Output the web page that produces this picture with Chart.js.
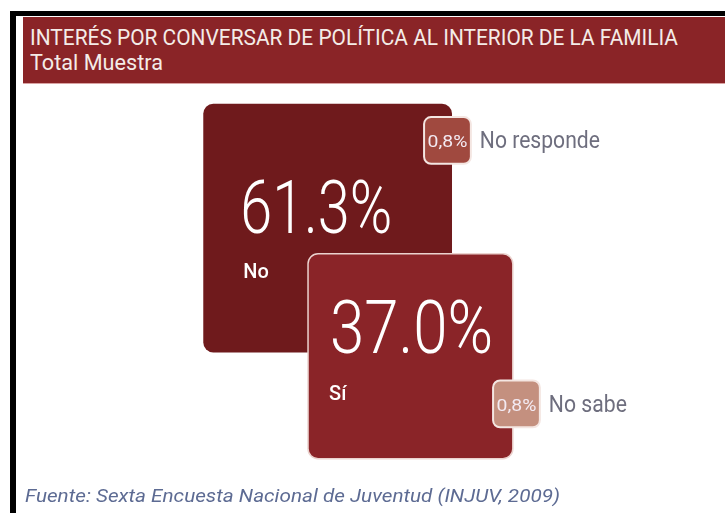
<!DOCTYPE html>
<html>
<head>
<meta charset="utf-8">
<script src="https://cdn.jsdelivr.net/npm/chart.js@4.4.1/dist/chart.umd.min.js"></script>
<style>
  html, body { margin: 0; padding: 0; background: #fff; }
  body {
    width: 725px; height: 513px; position: relative; overflow: hidden;
    font-family: Roboto, "Noto Sans", sans-serif;
  }
  .frame-top { position: absolute; left: 10px; top: 11px; width: 715px; height: 5px; background: #000; }
  .frame-left { position: absolute; left: 10px; top: 11px; width: 6px; height: 502px; background: #000; }
  .header {
    position: absolute; left: 23px; top: 17px; width: 702px; height: 66px;
    background: #8A2427; border-bottom: 1px solid #d9a3a3; color: #F4ECE8;
  }
  .fit { position: absolute; white-space: nowrap; line-height: 1; transform-origin: 0 0; }
  .header .t1 { left: 7px; top: 9px; font-size: 22.5px; }
  .header .t2 { left: 7px; top: 34px; font-size: 22.5px; }
  #wrap { position: absolute; }
  .source { left: 25px; top: 486px; font-size: 19px; font-style: italic; color: #5D6B93; }
</style>
</head>
<body>
<div class="frame-top"></div>
<div class="frame-left"></div>
<div class="header">
  <div class="fit t1" data-w="648">INTERÉS POR CONVERSAR DE POLÍTICA AL INTERIOR DE LA FAMILIA</div>
  <div class="fit t2" data-w="133">Total Muestra</div>
</div>
<div id="wrap"><canvas id="chart"></canvas></div>
<div class="fit source" data-w="535">Fuente: Sexta Encuesta Nacional de Juventud (INJUV, 2009)</div>

<script>
// Data
const categories = ["No", "Sí", "No responde", "No sabe"];
const values = [61.3, 37.0, 0.8, 0.8];
const valueLabels = ["61.3%", "37.0%", "0,8%", "0,8%"];

// Layout: where each square sits, on a 0-100 grid (x from left, y from top)
const anchorX = [45.2, 56.6, 61.7, 71.2];
const anchorY = [36.4, 70.0, 13.4, 82.5];

const fills = ["#6F1A1C", "#8A2428", "#A0493F", "#C4907F"];
const outlines = [null, "#EBD3CF", "#F4E6E2", "#F4E6E2"];

// square side grows with value on a power scale (designer's scaling)
const sideOf = (v) => 51 * Math.pow(v, 0.385);

// squeeze html text to the widths seen in the reference (condensed face)
document.querySelectorAll(".fit").forEach((el) => {
  const w = el.getBoundingClientRect().width;
  el.style.transform = `scaleX(${el.dataset.w / w})`;
});

// bubble charts pad the plot area by the largest radius, so grow the canvas by that much
const pad = Math.ceil(Math.max(...values.map(sideOf)) / 2);
const plot = { left: 0, top: 90, width: 725, height: 380 };
const wrap = document.getElementById("wrap");
wrap.style.left = plot.left - pad + "px";
wrap.style.top = plot.top - pad + "px";
wrap.style.width = plot.width + 2 * pad + "px";
wrap.style.height = plot.height + 2 * pad + "px";

function fitText(ctx, text, x, y, font, width, align) {
  ctx.save();
  ctx.font = font;
  const sx = width / ctx.measureText(text).width;
  const left = align === "center" ? x - width / 2 : x;
  ctx.translate(left, y);
  ctx.scale(sx, 1);
  ctx.textAlign = "left";
  ctx.fillText(text, 0, 0);
  ctx.restore();
}

const squarePlugin = {
  id: "squares",
  afterDatasetsDraw(chart) {
    const { ctx } = chart;
    const meta = chart.getDatasetMeta(0);
    meta.data.forEach((el, i) => {
      const h = el.options.radius;
      const x0 = el.x - h;
      const y0 = el.y - h;
      const side = h * 2;
      const big = side > 100;

      ctx.save();
      ctx.beginPath();
      ctx.roundRect(x0, y0, side, side, big ? 10 : 7);
      ctx.fillStyle = fills[i];
      ctx.fill();
      if (outlines[i]) {
        ctx.lineWidth = big ? 1.5 : 2;
        ctx.strokeStyle = outlines[i];
        ctx.stroke();
      }

      ctx.textBaseline = "alphabetic";
      if (big) {
        const off = i === 0
          ? { vx: 37, vy: 129, vw: 152, cx: 40, cy: 174 }
          : { vx: 22, vy: 99, vw: 163, cx: 21, cy: 146 };
        ctx.fillStyle = "#FFFFFF";
        fitText(ctx, valueLabels[i], x0 + off.vx, y0 + off.vy, "300 74px Roboto", off.vw);
        ctx.font = "500 20px Roboto";
        ctx.fillText(categories[i], x0 + off.cx, y0 + off.cy);
      } else {
        ctx.fillStyle = "#F3EAF2";
        fitText(ctx, valueLabels[i], el.x, el.y + 7, "17px Roboto", side - 7, "center");
        ctx.fillStyle = "#6E6E7E";
        fitText(ctx, categories[i], x0 + side + 9, el.y + 8, "23px Roboto", i === 2 ? 120 : 78);
      }
      ctx.restore();
    });
  },
};

new Chart(document.getElementById("chart"), {
  type: "bubble",
  data: {
    datasets: [
      {
        data: categories.map((c, i) => ({ x: anchorX[i], y: anchorY[i], r: sideOf(values[i]) / 2 })),
        backgroundColor: "rgba(0,0,0,0)",
        borderWidth: 0,
        hoverRadius: 0,
        clip: false,
      },
    ],
  },
  options: {
    responsive: true,
    maintainAspectRatio: false,
    animation: false,
    events: [],
    layout: { padding: 0 },
    plugins: { legend: { display: false }, tooltip: { enabled: false } },
    scales: {
      x: { type: "linear", min: 0, max: 100, display: false },
      y: { type: "linear", min: 0, max: 100, reverse: true, display: false },
    },
  },
  plugins: [squarePlugin],
});
</script>
</body>
</html>
